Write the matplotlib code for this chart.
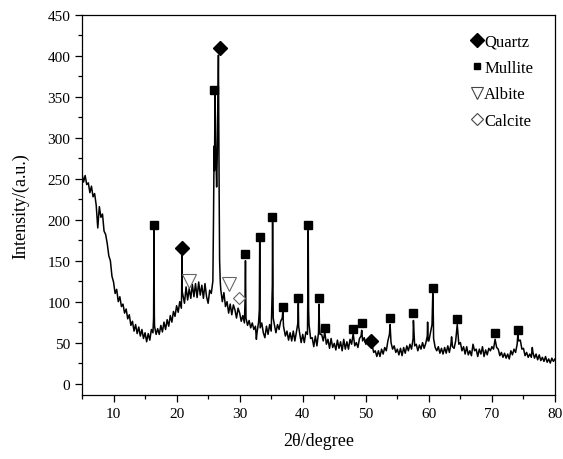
import numpy as np
import matplotlib
matplotlib.use("Agg")
import matplotlib.pyplot as plt
from matplotlib.lines import Line2D
from matplotlib.ticker import MultipleLocator

plt.rcParams['font.family'] = ['Liberation Serif', 'DejaVu Serif']

# background trace, read every 0.25 degree from 5 to 80
base_y = [
    256, 246, 254, 243,  245, 233, 241, 228,  232, 218, 190, 216,  203, 207, 186, 182,   # 5-8
    171, 156, 150, 131,  124, 110, 115, 100,  106, 94, 97, 86,  91, 79, 84, 71,          # 9-12
    76, 64, 72, 61,  69, 58, 66, 55,  62, 51, 61, 53,  66, 62, 70, 60,                   # 13-16
    67, 60, 71, 63,  75, 66, 78, 70,  83, 75, 88, 82,  95, 87, 100, 92,                  # 17-20
    108, 98, 118, 102,  116, 104, 121, 106,  122, 105, 124, 108,  120, 104, 122, 106,    # 21-24
    98, 114, 110, 125,  260, 270, 320, 230,  115, 100, 111, 94,  100, 86, 97, 84,        # 25-28
    96, 90, 80, 92,  86, 76, 83, 74,  80, 71, 77, 68,  74, 66, 70, 62,                   # 29-32
    75, 68, 74, 62,  56, 70, 60, 72,  64, 150, 72, 62,  72, 66, 76, 80,                  # 33-36
    68, 58, 64, 53,  62, 52, 64, 52,  63, 75, 62, 50,  60, 50, 63, 60,                   # 37-40
    72, 55, 56, 45,  58, 46, 62, 60,  60, 52, 63, 48,  54, 43, 55, 44,                   # 41-44
    49, 41, 53, 43,  51, 40, 54, 42,  51, 42, 54, 48,  61, 46, 50, 44,                   # 45-48
    55, 58, 52, 56,  48, 54, 47, 55,  47, 38, 40, 33,  40, 33, 42, 36,                   # 49-52
    44, 40, 52, 60,  50, 42, 46, 38,  42, 35, 43, 34,  44, 37, 46, 40,                   # 53-56
    48, 42, 55, 46,  48, 40, 47, 42,  50, 43, 49, 58,  52, 62, 72, 55,                   # 57-60
    44, 40, 45, 37,  43, 36, 44, 37,  46, 38, 48, 45,  43, 52, 72, 48,                   # 61-64
    50, 40, 45, 36,  45, 35, 40, 34,  48, 40, 42, 33,  42, 36, 45, 33,                   # 65-68
    41, 35, 43, 40,  45, 42, 54, 44,  42, 34, 38, 32,  37, 31, 36, 30,                   # 69-72
    40, 35, 42, 38,  48, 52, 53, 42,  43, 34, 38, 32,  36, 32, 38, 31,                   # 73-76
    36, 29, 35, 28,  32, 27, 33, 26,  30, 25, 31, 27,  30,                               # 77-80
]
base_x = np.linspace(5, 80, len(base_y))

# sharp diffraction peaks
peak_x = [16.35, 16.42, 16.47, 20.8, 20.85, 20.9,
          25.85, 25.95, 26.1, 26.18, 26.35, 26.45, 26.58, 26.63, 26.7, 26.82, 26.92,
          30.85, 30.92, 30.98, 32.65, 33.12, 33.18, 33.23, 35.18, 35.22, 35.32,
          36.85, 36.95, 39.3, 39.35, 40.82, 40.87, 40.93, 42.58, 42.65,
          49.35, 53.85, 57.55, 59.8, 59.88, 60.62, 60.7, 63.6, 74.1, 76.4]
peak_y = [80, 187, 85, 110, 157, 112,
          200, 290, 356, 300, 240, 280, 360, 401, 290, 150, 125,
          100, 150, 90, 54, 90, 175, 88, 120, 197, 80,
          89, 70, 98, 70, 120, 187, 90, 97, 72,
          65, 72, 77, 75, 52, 110, 85, 57, 59, 44]

# phase markers
quartz_x = [20.85, 26.87, 50.9]
quartz_y = [166, 410, 52]
mullite_x = [16.45, 26.0, 30.9, 33.2, 35.2, 36.9, 39.3, 40.85, 42.6, 43.6,
             48.0, 49.4, 53.8, 57.5, 60.7, 64.5, 70.5, 74.1]
mullite_y = [193, 359, 158, 179, 203, 94, 104, 194, 105, 68,
             66, 74, 80, 86, 117, 79, 62, 65]
albite_x = [22.0, 28.3]
albite_y = [125, 122]
calcite_x = [29.9]
calcite_y = [105]

x = np.concatenate([base_x, peak_x])
y = np.concatenate([base_y, peak_y])
order = np.argsort(x, kind='stable')
x, y = x[order], y[order]

fig = plt.figure(figsize=(5.63, 4.60), dpi=100)
ax = fig.add_axes([82/563, 64/460, 473/563, 380/460])

ax.plot(x, y, color='black', lw=1.1)

ax.plot(quartz_x, quartz_y, ls='none', marker='D', ms=7.5, color='black')
ax.plot(mullite_x, mullite_y, ls='none', marker='s', ms=5.8, color='black')
ax.plot(albite_x, albite_y, ls='none', marker='v', ms=9.5, mfc='white', mec='#666666', mew=0.8)
ax.plot(calcite_x, calcite_y, ls='none', marker='D', ms=6.6, mfc='white', mec='#666666', mew=0.8)

ax.set_xlim(5, 80)
ax.set_ylim(-14, 450)
ax.xaxis.set_major_locator(MultipleLocator(10))
ax.xaxis.set_minor_locator(MultipleLocator(5))
ax.yaxis.set_major_locator(MultipleLocator(50))
ax.yaxis.set_minor_locator(MultipleLocator(25))
ax.tick_params(which='both', direction='out', top=False, right=False, labelsize=11)
ax.tick_params(which='major', length=5, width=0.9)
ax.tick_params(which='minor', length=3, width=0.9)
for s in ax.spines.values():
    s.set_linewidth(0.9)

ax.set_xlabel('2θ/degree', fontsize=13, labelpad=9)
ax.set_ylabel('Intensity/(a.u.)', fontsize=13, labelpad=13)

handles = [
    Line2D([], [], ls='none', marker='D', ms=7, color='black'),
    Line2D([], [], ls='none', marker='s', ms=5, color='black'),
    Line2D([], [], ls='none', marker='v', ms=8.5, mfc='white', mec='#444444', mew=0.8),
    Line2D([], [], ls='none', marker='D', ms=6.5, mfc='white', mec='#444444', mew=0.8),
]
ax.legend(handles, ['Quartz', 'Mullite', 'Albite', 'Calcite'], loc='upper left',
          bbox_to_anchor=(0.81, 0.968), frameon=False, fontsize=12,
          handlelength=0.6, handletextpad=0.15, labelspacing=0.62, borderaxespad=0)

fig.savefig('out.png', dpi=100)
